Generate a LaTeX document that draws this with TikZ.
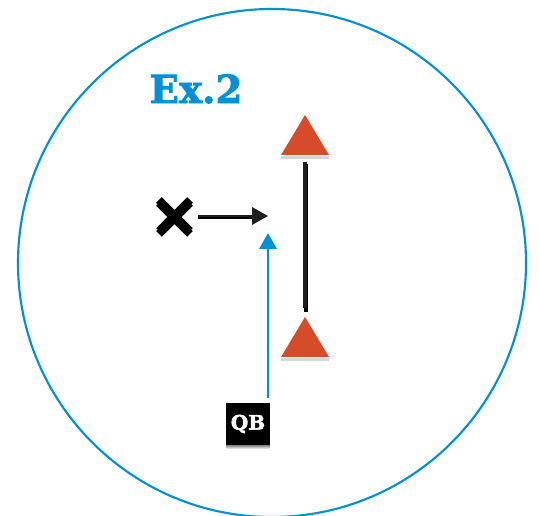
\documentclass[tikz,border=0pt]{standalone}
\usepackage{fontspec}
\setmainfont{DejaVu Serif}
\newfontfamily\heavyserif[FakeBold=2.2]{DejaVu Serif Bold}
\usetikzlibrary{arrows.meta}
\definecolor{exblue}{RGB}{0,144,215}
\definecolor{cone}{RGB}{214,76,42}
\definecolor{shade}{RGB}{215,215,218}
\begin{document}
\begin{tikzpicture}[x=0.75pt,y=-0.75pt,
  conetri/.style={fill=cone,draw=none},
  shadowtri/.style={fill=shade,draw=none},
  blackline/.style={line width=3.4pt,draw=black!88},
  bluearrow/.style={line width=1.9pt,draw=exblue,-{Triangle[width=13pt,length=12pt]}},
  blackarrow/.style={line width=1.9pt,draw=black!88,-{Triangle[width=13pt,length=12pt]}},
  qbbox/.style={fill=black,text=white,font=\heavyserif\fontsize{15}{15}\selectfont,minimum width=33pt,minimum height=32pt,inner sep=0pt},
  titletext/.style={text=exblue,font=\heavyserif\fontsize{29}{29}\selectfont}
]
\useasboundingbox (0,0) rectangle (539,516);
% field circle
\draw[exblue,line width=1.6pt] (272,263) circle[radius=254];
% title
\node[titletext] (title) at (196,89) {Ex.2};
% cones (with shadows)
\fill[shadowtri] (281,156) -- (329,156) -- (329,159) -- (281,159) -- cycle;
\fill[conetri] (305,115) -- (329,155) -- (281,155) -- cycle;
\fill[shadowtri] (281,358) -- (329,358) -- (329,361) -- (281,361) -- cycle;
\fill[conetri] (305,317) -- (329,357) -- (281,357) -- cycle;
\coordinate (topcone) at (305,162);
\coordinate (botcone) at (305,308);
% line between cones
\draw[line width=3.4pt,shade] (306,164) -- (306,312);
\draw[blackline] (topcone) -- (botcone);
% X defender
\begin{scope}[line width=6pt,shade]
\draw (159,203) -- (190,234);
\draw (190,203) -- (159,234);
\end{scope}
\begin{scope}[line width=6pt,black]
\draw (159,200) -- (190,231);
\draw (190,200) -- (159,231);
\end{scope}
\node[inner sep=0pt,minimum size=0pt] (xdef) at (174,216) {};
\coordinate (xend) at (268,216);
\draw[line width=1.9pt,shade] (198,218) -- (258,218);
\draw[blackarrow] (198,216) -- (xend);
% QB
\fill[shade] (226,445) rectangle (270,449);
\node[qbbox] (qb) at (248,424) {QB};
\coordinate (qbtarget) at (268,233);
\draw[bluearrow] (268,398) -- (qbtarget);
\end{tikzpicture}
\end{document}
